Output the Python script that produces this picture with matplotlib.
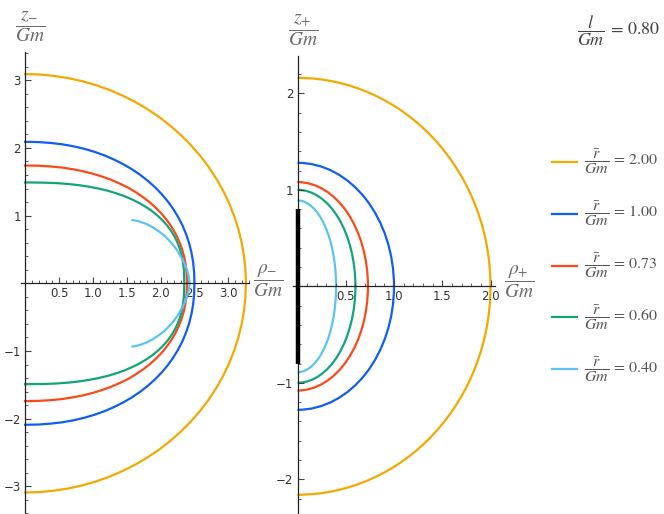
import matplotlib
matplotlib.use("Agg")
import matplotlib.pyplot as plt
from matplotlib.lines import Line2D
from matplotlib.patches import Arc
from matplotlib.ticker import MultipleLocator, FixedLocator
import numpy as np

# curve parameters r/Gm (legend order)
r_bar = [2.00, 1.00, 0.73, 0.60, 0.40]
colors = ['#F5A800', '#0F5EF7', '#FA4A1A', '#13A57A', '#5BC3F5']
l_over_gm = 0.80

# left panel, upper half of each curve (rho_-, z_-)
rho_orange = [0, 0.213, 0.425, 0.636, 0.844, 1.048, 1.248, 1.442, 1.63, 1.811, 1.985,
              2.149, 2.305, 2.451, 2.587, 2.711, 2.823, 2.924, 3.012, 3.087, 3.149,
              3.197, 3.232, 3.253, 3.26]
z_orange = [3.09, 3.084, 3.063, 3.031, 2.985, 2.926, 2.855, 2.771, 2.676, 2.569, 2.452,
            2.323, 2.185, 2.037, 1.881, 1.717, 1.545, 1.367, 1.183, 0.993, 0.800,
            0.603, 0.403, 0.202, 0]
rho_blue = [0, 0.198, 0.376, 0.547, 0.711, 0.870, 1.023, 1.171, 1.312, 1.447, 1.576,
            1.697, 1.811, 1.918, 2.016, 2.106, 2.187, 2.259, 2.323, 2.376, 2.421,
            2.455, 2.48, 2.495, 2.5]
z_blue = [2.09, 2.086, 2.073, 2.053, 2.024, 1.987, 1.942, 1.889, 1.828, 1.760, 1.685,
          1.603, 1.514, 1.419, 1.317, 1.210, 1.097, 0.979, 0.855, 0.727, 0.595,
          0.457, 0.315, 0.166, 0]
rho_red = [0, 0.200, 0.375, 0.541, 0.699, 0.852, 0.998, 1.138, 1.273, 1.401, 1.522,
           1.637, 1.744, 1.844, 1.937, 2.021, 2.097, 2.165, 2.224, 2.274, 2.316,
           2.348, 2.371, 2.385, 2.39]
z_red = [1.74, 1.737, 1.726, 1.710, 1.686, 1.656, 1.619, 1.576, 1.527, 1.471, 1.412,
         1.343, 1.270, 1.192, 1.108, 1.020, 0.927, 0.829, 0.727, 0.620, 0.509,
         0.394, 0.273, 0.146, 0]
rho_green = [0, 0.265, 0.461, 0.636, 0.797, 0.948, 1.09, 1.224, 1.35, 1.469, 1.58,
             1.684, 1.781, 1.871, 1.953, 2.028, 2.095, 2.154, 2.206, 2.249, 2.286,
             2.314, 2.334, 2.346, 2.35]
z_green = [1.49, 1.487, 1.480, 1.467, 1.449, 1.426, 1.398, 1.366, 1.328, 1.286, 1.238,
           1.186, 1.129, 1.068, 1.002, 0.931, 0.856, 0.776, 0.691, 0.601, 0.505,
           0.403, 0.292, 0.168, 0]
rho_light = [1.585, 1.68, 1.78, 1.88, 1.97, 2.05, 2.12, 2.19, 2.25, 2.30, 2.35, 2.39,
             2.415, 2.43]
z_light = [0.935, 0.915, 0.88, 0.83, 0.77, 0.71, 0.64, 0.56, 0.48, 0.39, 0.30, 0.20,
           0.10, 0]

rho_minus = [rho_orange, rho_blue, rho_red, rho_green, rho_light]
z_minus = [z_orange, z_blue, z_red, z_green, z_light]

# right panel: half-ellipses, semi-axes along rho_+ and z_+
rho_plus_extent = [2.00, 1.00, 0.73, 0.60, 0.40]
z_plus_extent = [2.16, 1.28, 1.08, 1.00, 0.89]

left_xticks = [0.5, 1.0, 1.5, 2.0, 2.5, 3.0]
left_yticks = [-3, -2, -1, 1, 2, 3]
right_xticks = [0.5, 1.0, 1.5, 2.0]
right_yticks = [-2, -1, 1, 2]

W, H = 664, 514
LABEL_GRAY = '#6a6a6a'


def fig_box(left_px, top_px, width_px, height_px):
    """Pixel box (from top-left) to figure fraction rect."""
    return [left_px / W, 1 - (top_px + height_px) / H, width_px / W, height_px / H]


def style_axes(ax, xticks, yticks, xminor, yminor):
    for side in ['top', 'right']:
        ax.spines[side].set_visible(False)
    ax.spines['left'].set_position(('data', 0))
    ax.spines['bottom'].set_position(('data', 0))
    for side in ['left', 'bottom']:
        ax.spines[side].set_linewidth(0.9)
        ax.spines[side].set_color('#222222')
    ax.xaxis.set_major_locator(FixedLocator(xticks))
    ax.yaxis.set_major_locator(FixedLocator(yticks))
    ax.xaxis.set_minor_locator(MultipleLocator(xminor))
    ax.yaxis.set_minor_locator(MultipleLocator(yminor))
    ax.set_xticklabels([f"{t:.1f}" for t in xticks])
    ax.set_yticklabels([f"{t:d}".replace('-', '\u2212') for t in yticks])
    ax.tick_params(which='both', direction='in', colors='#444444',
                   labelcolor='#333333', labelsize=8.5)
    ax.tick_params(which='major', length=4, width=0.8, pad=3)
    ax.tick_params(which='minor', length=2.2, width=0.6)
    ax.patch.set_alpha(0)


plt.rcParams['mathtext.fontset'] = 'stix'
fig = plt.figure(figsize=(W / 100, H / 100), dpi=100)

# left panel: origin at (25.2, 283.3) px, 67.7 px per unit
sl = 67.7
lx0, lx1, ly0, ly1 = -0.06, 3.30, -3.40, 3.42
ax1 = fig.add_axes(fig_box(25.2 + lx0 * sl, 283.3 - ly1 * sl,
                           (lx1 - lx0) * sl, (ly1 - ly0) * sl))
ax1.set_xlim(lx0, lx1)
ax1.set_ylim(ly0, ly1)
for rho, z, c in zip(rho_minus, z_minus, colors):
    rho = np.array(rho)
    z = np.array(z)
    full_rho = np.concatenate([rho, rho[::-1]])
    full_z = np.concatenate([z, -z[::-1]])
    ax1.plot(full_rho, full_z, color=c, lw=1.6, solid_joinstyle='round')
style_axes(ax1, left_xticks, left_yticks, 0.1, 0.2)

# right panel: origin at (297.5, 286.3) px, 96.5 px per unit
sr = 96.5
rx0, rx1, ry0, ry1 = -0.05, 2.05, -2.355, 2.39
ax2 = fig.add_axes(fig_box(297.5 + rx0 * sr, 286.3 - ry1 * sr,
                           (rx1 - rx0) * sr, (ry1 - ry0) * sr))
ax2.set_xlim(rx0, rx1)
ax2.set_ylim(ry0, ry1)
for a, b, c in zip(rho_plus_extent, z_plus_extent, colors):
    ax2.add_patch(Arc((0, 0), 2 * a, 2 * b, theta1=-90, theta2=90,
                      color=c, lw=1.6))
ax2.plot([0, 0], [-l_over_gm, l_over_gm], color='black', lw=3.2,
         solid_capstyle='butt', zorder=5)
style_axes(ax2, right_xticks, right_yticks, 0.1, 0.2)

# axis labels
lab = dict(ha='center', va='center', fontsize=14, color=LABEL_GRAY)
fig.text(30 / W, 1 - 27 / H, r'$\dfrac{z_{-}}{Gm}$', **lab)
fig.text(268 / W, 1 - 281 / H, r'$\dfrac{\rho_{-}}{Gm}$', **lab)
fig.text(303 / W, 1 - 30 / H, r'$\dfrac{z_{+}}{Gm}$', **lab)
fig.text(519 / W, 1 - 282 / H, r'$\dfrac{\rho_{+}}{Gm}$', **lab)

fig.text(577 / W, 1 - 31 / H, r'$\dfrac{l}{Gm}\,=\,%.2f$' % l_over_gm, ha='left',
         va='center', fontsize=13, color='#444444')

# legend
for i, (rb, c) in enumerate(zip(r_bar, colors)):
    y = 1 - (161.7 + i * 51.9) / H
    fig.add_artist(Line2D([552 / W, 577 / W], [y, y], color=c, lw=1.6,
                          transform=fig.transFigure))
    fig.text(584 / W, y, r'$\dfrac{\bar{r}}{Gm}\,=\,%.2f$' % rb, ha='left',
             va='center', fontsize=11.5, color='#555555')

fig.savefig('out.png', dpi=100)
